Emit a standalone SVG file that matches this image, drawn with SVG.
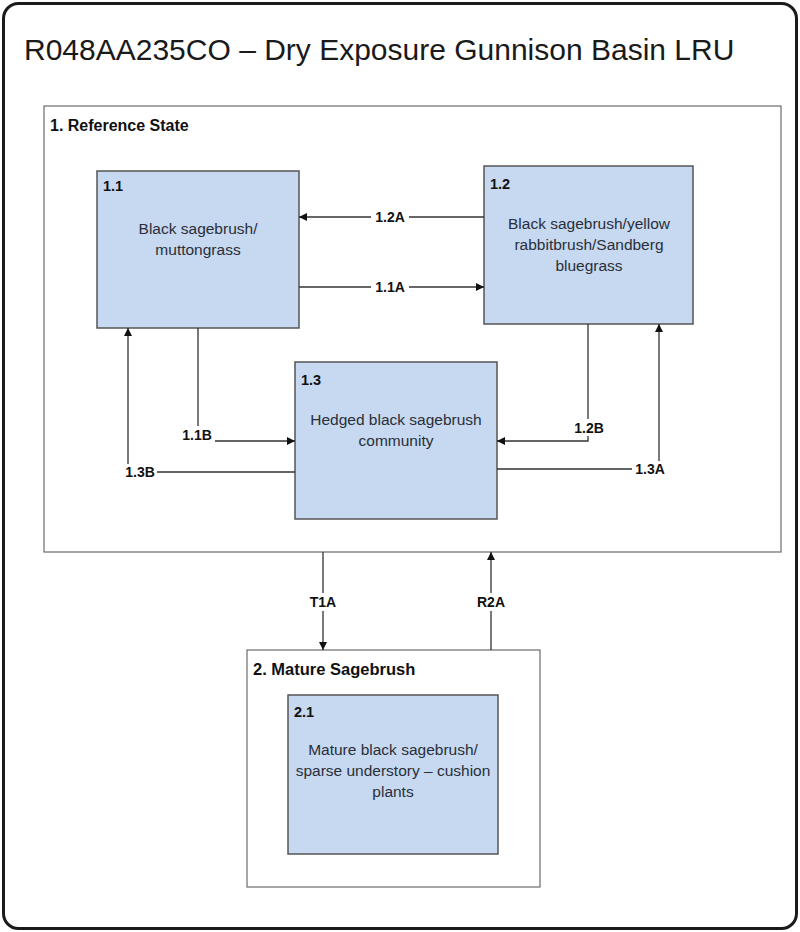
<svg xmlns="http://www.w3.org/2000/svg" width="800" height="932" viewBox="0 0 800 932">
<style>
.frame{fill:#fff;stroke:#1a1a1a;stroke-width:3}
.state{fill:#fff;stroke:#6b6b6b;stroke-width:1.2}
.node{fill:#c6d9f0;stroke:#555;stroke-width:1.5}
.title{font-family:"Liberation Sans",Arial,sans-serif;font-size:30px;fill:#1a1a1a}
.slabel{font-family:"Liberation Sans",Arial,sans-serif;font-size:16px;font-weight:bold;fill:#111}
.nid{font-family:"Liberation Sans",Arial,sans-serif;font-size:14.5px;font-weight:bold;fill:#111}
.ntext{font-family:"Liberation Sans",Arial,sans-serif;font-size:15.5px;fill:#2a2e3a;text-anchor:middle}
.conn{fill:none;stroke:#333;stroke-width:1.3}
.clabel{font-family:"Liberation Sans",Arial,sans-serif;font-size:14px;font-weight:bold;fill:#111;text-anchor:middle;dominant-baseline:central}
.lbg{fill:#fff}
</style>
<defs>
<marker id="ah" viewBox="0 0 10 10" refX="10" refY="5" markerWidth="8" markerHeight="8" markerUnits="userSpaceOnUse" orient="auto">
<path d="M0,0 L10,5 L0,10 z" fill="#111"/>
</marker>
</defs>
<rect class="frame" x="3.5" y="3.5" width="793" height="925" rx="15" ry="15"/>
<text class="title" x="24" y="60">R048AA235CO – Dry Exposure Gunnison Basin LRU</text>

<g id="state1">
<rect class="state" x="44" y="106" width="737" height="446"/>
<text class="slabel" x="50" y="131">1. Reference State</text>
</g>
<g id="state2">
<rect class="state" x="247" y="650" width="293" height="237"/>
<text class="slabel" x="253" y="675" style="font-size:16.5px">2. Mature Sagebrush</text>
</g>

<g id="n11">
<rect class="node" x="97" y="171" width="202" height="157"/>
<text class="nid" x="103" y="191">1.1</text>
<text class="ntext" x="198" y="234">Black sagebrush/</text>
<text class="ntext" x="198" y="255">muttongrass</text>
</g>
<g id="n12">
<rect class="node" x="484" y="166" width="209" height="158"/>
<text class="nid" x="490" y="189">1.2</text>
<text class="ntext" x="589" y="229">Black sagebrush/yellow</text>
<text class="ntext" x="589" y="250">rabbitbrush/Sandberg</text>
<text class="ntext" x="589" y="271">bluegrass</text>
</g>
<g id="n13">
<rect class="node" x="295" y="362" width="202" height="157"/>
<text class="nid" x="301" y="385">1.3</text>
<text class="ntext" x="396" y="425">Hedged black sagebrush</text>
<text class="ntext" x="396" y="446">community</text>
</g>
<g id="n21">
<rect class="node" x="288" y="695" width="210" height="159"/>
<text class="nid" x="294" y="717">2.1</text>
<text class="ntext" x="393" y="755">Mature black sagebrush/</text>
<text class="ntext" x="393" y="776">sparse understory – cushion</text>
<text class="ntext" x="393" y="797">plants</text>
</g>

<g id="connectors">
<path class="conn" d="M484,217 H299" marker-end="url(#ah)"/>
<path class="conn" d="M299,287 H484" marker-end="url(#ah)"/>
<path class="conn" d="M198,328 V441 H295" marker-end="url(#ah)"/>
<path class="conn" d="M588,324 V441 H497" marker-end="url(#ah)"/>
<path class="conn" d="M295,472 H128 V328" marker-end="url(#ah)"/>
<path class="conn" d="M497,469 H659 V324" marker-end="url(#ah)"/>
<path class="conn" d="M323,552 V650" marker-end="url(#ah)"/>
<path class="conn" d="M491,650 V552" marker-end="url(#ah)"/>

<rect class="lbg" x="371" y="209" width="38" height="16"/>
<text class="clabel" x="390" y="217">1.2A</text>
<rect class="lbg" x="371" y="279" width="38" height="16"/>
<text class="clabel" x="390" y="287">1.1A</text>
<rect class="lbg" x="178" y="426" width="37" height="17"/>
<text class="clabel" x="197" y="435">1.1B</text>
<rect class="lbg" x="570" y="419" width="37" height="17"/>
<text class="clabel" x="589" y="428">1.2B</text>
<rect class="lbg" x="122" y="464" width="35" height="17"/>
<text class="clabel" x="140" y="472">1.3B</text>
<rect class="lbg" x="632" y="461" width="36" height="17"/>
<text class="clabel" x="650" y="469">1.3A</text>
<rect class="lbg" x="306" y="593" width="34" height="18"/>
<text class="clabel" x="323" y="602">T1A</text>
<rect class="lbg" x="474" y="593" width="35" height="18"/>
<text class="clabel" x="491" y="602">R2A</text>
</g>
</svg>
